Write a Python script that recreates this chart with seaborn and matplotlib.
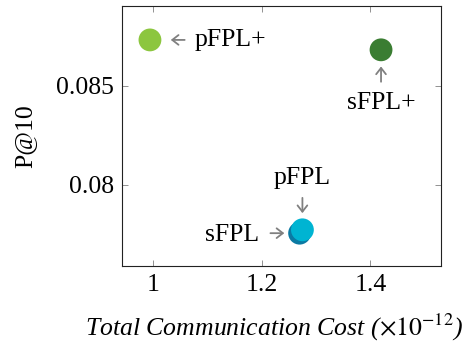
import pandas as pd
import matplotlib
matplotlib.use("Agg")
import matplotlib.pyplot as plt
import seaborn as sns

# data
methods = ["sFPL", "pFPL", "pFPL+", "sFPL+"]
cost = [1.2695, 1.2747, 0.9935, 1.4197]
p_at_10 = [0.07756, 0.07773, 0.08732, 0.08682]
colors = ["#0b7aa3", "#00b4d2", "#8cc63f", "#3a7d32"]

# label placement (offset points): text offset, arrow tail, arrow tip, alignment
label_pos = {
    "pFPL+": ((32, 0), (25, 0), (15, 0), "left", "center"),
    "sFPL+": ((0, -38), (0, -23), (0, -12), "center", "center"),
    "pFPL": ((0, 37), (0, 23), (0, 12), "center", "center"),
    "sFPL": ((-29, -1), (-21, 0), (-11, 0), "right", "center"),
}

df = pd.DataFrame({"method": methods, "cost": cost, "p10": p_at_10})

sns.set_style("ticks")
plt.rcParams["font.family"] = ["Liberation Serif", "DejaVu Serif"]
plt.rcParams["mathtext.fontset"] = "stix"
plt.rcParams["text.color"] = "black"
plt.rcParams["axes.labelcolor"] = "black"
plt.rcParams["xtick.labelcolor"] = "black"
plt.rcParams["ytick.labelcolor"] = "black"
FS = 18.5

fig = plt.figure(figsize=(4.73, 3.45), dpi=100)
ax = fig.add_axes([0.258, 0.230, 0.674, 0.753])

sns.scatterplot(
    data=df, x="cost", y="p10", hue="method", palette=colors,
    s=270, edgecolor="none", legend=False, ax=ax, zorder=3
)

for m, x, y in zip(methods, cost, p_at_10):
    txt, tail, tip, ha, va = label_pos[m]
    ax.annotate(
        "", xy=(x, y), xytext=tail, textcoords="offset points",
        arrowprops=dict(arrowstyle="->,head_length=0.45,head_width=0.35",
                        color="#808080", lw=1.3,
                        shrinkA=0, shrinkB=abs(tip[0]) + abs(tip[1])),
    )
    ax.annotate(m, xy=(x, y), xytext=txt, textcoords="offset points",
                ha=ha, va=va, fontsize=FS, color="black")

ax.set_xlim(0.942, 1.530)
ax.set_ylim(0.07592, 0.08904)
ax.set_xticks([1, 1.2, 1.4])
ax.set_xticklabels(["1", "1.2", "1.4"])
ax.set_yticks([0.08, 0.085])
ax.set_yticklabels(["0.08", "0.085"])
ax.tick_params(direction="in", length=4, width=0.6, color="#808080",
               top=True, right=True, labelsize=FS, pad=6)
for sp in ax.spines.values():
    sp.set_linewidth(0.8)
    sp.set_color("#222222")

ax.set_xlabel(r"Total Communication Cost ($\times10^{-12}$)", fontsize=FS,
              style="italic")
ax.xaxis.set_label_coords(0.477, -0.18)
ax.set_ylabel("P@10", fontsize=FS)
ax.yaxis.set_label_coords(-0.268, 0.5)

fig.savefig("out.png", dpi=100)
